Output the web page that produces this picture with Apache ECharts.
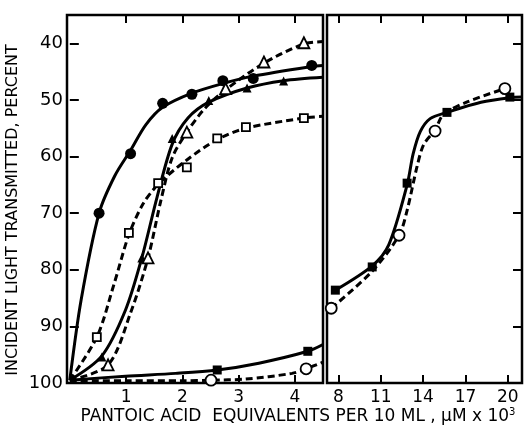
<!DOCTYPE html>
<html><head><meta charset="utf-8">
<script src="https://cdn.jsdelivr.net/npm/echarts@6/dist/echarts.min.js"></script>
<style>html,body{margin:0;padding:0;background:#fff}#c{width:525px;height:431px}</style>
</head><body><div id="c"></div>
<script>
// ---- tick values ----
const yTicks = [40, 50, 60, 70, 80, 90, 100];
const leftXTicks = [1, 2, 3, 4];
const rightXTicks = [8, 11, 14, 17, 20];
const xTitle = 'PANTOIC ACID  EQUIVALENTS PER 10 ML , μM x 10';
const yTitle = 'INCIDENT LIGHT TRANSMITTED, PERCENT';

// ---- left panel: marker points ----
const filledCirclePts = [[0.52,70],[1.08,59.5],[1.65,50.6],[2.17,49],[2.72,46.6],[3.26,46.2],[4.3,43.9]];
const filledTrianglePts = [[0.57,95.4],[1.28,77.9],[1.82,56.8],[2.47,50.1],[3.15,47.9],[3.8,46.65]];
const openTrianglePts = [[0.68,96.8],[1.39,77.9],[2.08,55.7],[2.77,48],[3.45,43.3],[4.16,39.9]];
const openSquarePts = [[0.48,91.9],[1.05,73.5],[1.57,64.7],[2.08,61.9],[2.62,56.8],[3.13,54.8],[4.16,53.2]];
const filledSquarePts = [[2.62,97.7],[4.23,94.4]];
const openCirclePts = [[2.51,99.5],[4.2,97.5]];

// ---- left panel: drawn curves ----
const filledCircleCurve = [[0,99.5],[0.2,85.4],[0.52,70],[0.8,63.4],[1.08,58.9],[1.35,54.4],[1.65,51.3],[2.17,48.8],[2.72,47.1],[3.26,45.8],[4.3,44.1],[4.5,43.9]];
const filledTriangleCurve = [[0,99.5],[0.57,95.2],[0.99,87.1],[1.28,77.9],[1.55,67.2],[1.82,57.8],[2.1,53.2],[2.47,50.4],[3.15,47.9],[3.8,46.6],[4.5,46]];
const openTriangleCurve = [[0,99.5],[0.68,96.8],[1.08,87.6],[1.39,77.9],[1.62,67.7],[1.82,60.2],[2.08,55.7],[2.4,51.5],[2.77,48.2],[3.45,43.5],[4.16,40.1],[4.5,39.7]];
const openSquareCurve = [[0,99.5],[0.48,91.9],[0.79,82.4],[1.05,73.8],[1.3,68.4],[1.57,64.9],[2.08,60.6],[2.62,57],[3.13,55],[4.16,53.2],[4.5,52.9]];
const filledSquareCurve = [[0,99.5],[0.99,98.8],[1.88,98.3],[2.62,97.7],[3.36,96.5],[4.23,94.4],[4.5,93.2]];
const openCircleCurve = [[0,99.6],[1,99.6],[2,99.6],[2.51,99.5],[3.12,99.3],[3.95,98.3],[4.2,97.5],[4.5,96.3]];

// ---- right panel ----
const rFilledSquarePts = [[7.79,83.6],[10.4,79.5],[12.87,64.7],[15.69,52.2],[20.14,49.5]];
const rOpenCirclePts = [[7.5,86.8],[12.3,73.9],[14.85,55.5],[19.79,48]];
const rFilledSquareCurve = [[7.79,83.6],[10.4,79.3],[11.57,75.6],[12.87,65],[13.3,59.5],[13.8,55.6],[14.5,53.3],[15.69,52.2],[18.1,50.4],[20.14,49.6],[21,49.5]];
const rOpenCircleCurve = [[7.5,86.8],[10.38,80.3],[12.3,73.9],[12.87,69.5],[13.57,61.8],[14.04,57.9],[14.85,55.3],[15.43,52.6],[17.08,50.4],[19.79,48]];

const FONT = 'DejaVu Sans';
const chart = echarts.init(document.getElementById('c'), null, {renderer: 'canvas'});

function xAx(grid, pos, min, max, ticks, labels) {
  return {
    type: 'value', gridIndex: grid, position: pos, min: min, max: max,
    axisLine: {show: false}, splitLine: {show: false},
    axisTick: {show: true, inside: true, length: 8, customValues: ticks, lineStyle: {color: '#000', width: 2}},
    axisLabel: {show: labels, customValues: ticks, color: '#000', fontFamily: FONT, fontSize: 17, margin: 6}
  };
}
function yAx(grid, pos, labels) {
  return {
    type: 'value', gridIndex: grid, position: pos, min: 35, max: 100, inverse: true,
    axisLine: {show: false}, splitLine: {show: false},
    axisTick: {show: true, inside: true, length: 9, customValues: yTicks.slice(0, 6), lineStyle: {color: '#000', width: 2}},
    axisLabel: {show: labels, customValues: yTicks, color: '#000', fontFamily: FONT, fontSize: 18, margin: 4}
  };
}
function curve(data, xi, yi, dashed) {
  return {type: 'line', xAxisIndex: xi, yAxisIndex: yi, data: data, showSymbol: false, symbol: 'none',
    smooth: 0.3, silent: true, z: 2,
    lineStyle: {color: '#000', width: 3, type: dashed ? [7, 4] : 'solid'}};
}
function marks(data, xi, yi, symbol, size, filled) {
  return {type: 'scatter', xAxisIndex: xi, yAxisIndex: yi, data: data, symbol: symbol, symbolSize: size, z: 5,
    itemStyle: {color: filled ? '#000' : '#fff', borderColor: '#000', borderWidth: filled ? 0 : 1.8, opacity: 1}};
}

chart.setOption({
  animation: false,
  backgroundColor: '#fff',
  grid: [
    {left: 67, top: 15, width: 256, height: 368, show: true, borderColor: '#000', borderWidth: 2.5, backgroundColor: 'transparent'},
    {left: 327, top: 15, width: 195, height: 368, show: true, borderColor: '#000', borderWidth: 2.5, backgroundColor: 'transparent'}
  ],
  xAxis: [
    xAx(0, 'bottom', -0.05, 4.5, leftXTicks, true),
    xAx(0, 'top', -0.05, 4.5, leftXTicks, false),
    xAx(1, 'bottom', 7.2, 21, rightXTicks, true),
    xAx(1, 'top', 7.2, 21, rightXTicks, false)
  ],
  yAxis: [
    yAx(0, 'left', true),
    yAx(1, 'right', false)
  ],
  graphic: [
    {type: 'text', x: 298, y: 417, style: {text: '{t|' + xTitle + '}{s|3}', rich: {t: {fontFamily: FONT, fontSize: 17, fill: '#000'}, s: {fontFamily: FONT, fontSize: 10, fill: '#000', verticalAlign: 'top', padding: [0,0,9,0]}}, align: 'center', verticalAlign: 'middle'}},
    {type: 'text', x: 13, y: 210, rotation: Math.PI / 2, style: {text: yTitle, fontFamily: FONT, fontSize: 16, fill: '#000', align: 'center', verticalAlign: 'middle'}}
  ],
  series: [
    curve(filledCircleCurve, 0, 0, false),
    curve(filledTriangleCurve, 0, 0, false),
    curve(openTriangleCurve, 0, 0, true),
    curve(openSquareCurve, 0, 0, true),
    curve(filledSquareCurve, 0, 0, false),
    curve(openCircleCurve, 0, 0, true),
    curve(rFilledSquareCurve, 2, 1, false),
    curve(rOpenCircleCurve, 2, 1, true),
    marks(filledCirclePts, 0, 0, 'circle', 11, true),
    marks(filledTrianglePts, 0, 0, 'triangle', 9, true),
    marks(openTrianglePts, 0, 0, 'triangle', 11, false),
    marks(openSquarePts, 0, 0, 'rect', 8, false),
    marks(filledSquarePts, 0, 0, 'rect', 9, true),
    marks(openCirclePts, 0, 0, 'circle', 11, false),
    marks(rFilledSquarePts, 2, 1, 'rect', 9, true),
    marks(rOpenCirclePts, 2, 1, 'circle', 11, false)
  ]
});
</script></body></html>
